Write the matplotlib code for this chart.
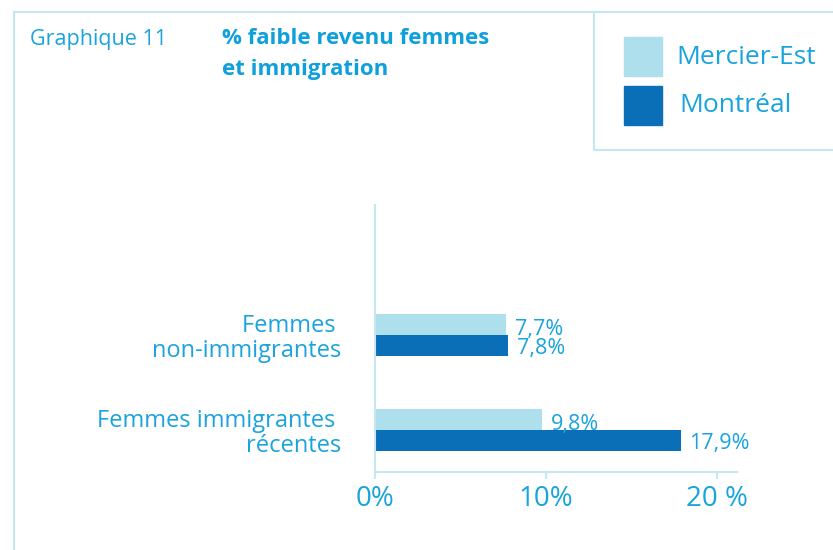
import matplotlib
matplotlib.use("Agg")
import matplotlib.pyplot as plt
from matplotlib.lines import Line2D
from matplotlib.patches import Rectangle

categories = ["Femmes \nnon-immigrantes", "Femmes immigrantes \nrécentes"]
series_names = ["Mercier-Est", "Montréal"]
mercier = [7.7, 9.8]
montreal = [7.8, 17.9]
value_labels_m = ["7,7%", "9,8%"]
value_labels_mtl = ["7,8%", "17,9%"]
xticks = [0, 10, 20]
xtick_labels = ["0%", "10%", "20 %"]

W, H = 833, 550
LIGHT = "#addfec"
DARK = "#0b6fb8"
TXT = "#1aa3dd"
FRAME = "#c5e7f1"
plt.rcParams["font.family"] = ["Open Sans", "DejaVu Sans"]

fig = plt.figure(figsize=(W / 100, H / 100), dpi=100)

def fx(px):
    return px / W

def fy(py):
    return 1 - py / H

# frame lines
for (x0, y0, x1, y1) in [(14, 12, 14, 550), (14, 12, 833, 12), (594, 12, 594, 150), (594, 150, 833, 150)]:
    fig.add_artist(Line2D([fx(x0), fx(x1)], [fy(y0), fy(y1)], color=FRAME, lw=1.5))

# titles
fig.text(fx(30), fy(39), "Graphique 11", color=TXT, fontsize=15.5, va="center", ha="left")
fig.text(fx(222), fy(39), "% faible revenu femmes", color="#0fa0dc", fontsize=16,
         fontweight="bold", va="center", ha="left")
fig.text(fx(222), fy(69), "et immigration", color="#0fa0dc", fontsize=16,
         fontweight="bold", va="center", ha="left")

# legend
for i, (name, col) in enumerate(zip(series_names, [LIGHT, DARK])):
    top = 37 + i * 49
    fig.add_artist(Rectangle((fx(624), fy(top + 39)), fx(38), 39 / H, color=col,
                             transform=fig.transFigure))
    fig.text(fx(676 + 3 * i), fy(top + 20), name, color=TXT, fontsize=19,
             va="center", ha="left")

# axes
ax = fig.add_axes([fx(375), fy(472), fx(737 - 375), (472 - 205) / H])
h = 21 / 95
ypos = list(range(len(categories)))
ax.barh([y - h / 2 for y in ypos], mercier, height=h, color=LIGHT)
ax.barh([y + h / 2 for y in ypos], montreal, height=h, color=DARK)
for y, v, lab in zip(ypos, mercier, value_labels_m):
    ax.annotate(lab, (v, y - h / 2), xytext=(6, -3.5), textcoords="offset points",
                color=TXT, fontsize=15.5, va="center", ha="left")
for y, v, lab in zip(ypos, montreal, value_labels_mtl):
    ax.annotate(lab, (v, y + h / 2), xytext=(6, -2.5), textcoords="offset points",
                color=TXT, fontsize=15.5, va="center", ha="left")

ax.set_ylim(1 + 42 / 95, -130 / 95)
ax.set_xlim(0, 21.2)
ax.set_yticks(ypos)
ax.set_yticklabels(categories, fontsize=17, color=TXT, ha="right", linespacing=1.05)
ax.tick_params(axis="y", length=0, pad=24)
ax.set_xticks(xticks)
ax.set_xticklabels(xtick_labels, fontsize=20, color=TXT)
ax.tick_params(axis="x", length=5, color=FRAME, width=1.5, pad=4)
for s in ["top", "right"]:
    ax.spines[s].set_visible(False)
for s in ["left", "bottom"]:
    ax.spines[s].set_color(FRAME)
    ax.spines[s].set_linewidth(1.5)
ax.patch.set_alpha(0)

fig.savefig("out.png", dpi=100)
